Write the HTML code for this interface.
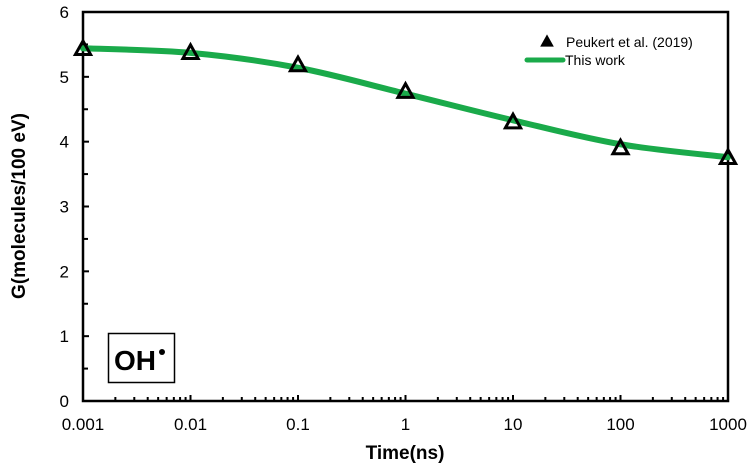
<!DOCTYPE html>
<html><head><meta charset="utf-8"><style>
body{margin:0;background:#fff;}
svg{display:block;font-family:"Liberation Sans",sans-serif;}
</style></head><body>
<svg id="chart" width="749" height="470" viewBox="0 0 749 470" xmlns="http://www.w3.org/2000/svg"></svg>
<script>
const xCats=[0.001,0.01,0.1,1,10,100,1000];
const xTickLabels=["0.001","0.01","0.1","1","10","100","1000"];
const peukertValues=[5.43,5.37,5.18,4.77,4.30,3.90,3.75];
const modelValues=[5.44,5.37,5.14,4.74,4.33,3.96,3.76];
const yTicks=[0,1,2,3,4,5,6];
const L=83,R=728,T=12,B=401;
const xs=v=>L+(Math.log10(v)+3)/6*(R-L);
const ys=v=>B-v/6*(B-T);
const svg=document.getElementById('chart');
const NS="http://www.w3.org/2000/svg";
function mk(tag,attrs,parent){const e=document.createElementNS(NS,tag);for(const k in attrs)e.setAttribute(k,attrs[k]);(parent||svg).appendChild(e);return e;}
let f=mk('rect',{x:L,y:T,width:R-L,height:B-T,fill:'none',stroke:'#000','stroke-width':2.5});


yTicks.forEach(v=>{
  let t=mk('line',{x1:L,x2:L+6,y1:ys(v),y2:ys(v),stroke:'#000','stroke-width':2});
  
  
  if(v<6){let m=mk('line',{x1:L,x2:L+5,y1:ys(v+0.5),y2:ys(v+0.5),stroke:'#000','stroke-width':2});
  
  }
  let lb=mk('text',{x:L-14,y:ys(v)+6,'text-anchor':'end','font-size':17});
  lb.textContent=v;
  
  
});
xCats.forEach((v,i)=>{
  let t=mk('line',{x1:xs(v),x2:xs(v),y1:B,y2:B-6,stroke:'#000','stroke-width':2});
  
  
  if(i<xCats.length-1){for(let k=2;k<10;k++){let m=mk('line',{x1:xs(v*k),x2:xs(v*k),y1:B,y2:B-4,stroke:'#000','stroke-width':2});
    
    }}
  let lb=mk('text',{x:xs(v),y:430,'text-anchor':'middle','font-size':17});
  lb.textContent=xTickLabels[i];
  
  
});
const pts=xCats.map((v,i)=>[xs(v),ys(modelValues[i])]);
let d=`M${pts[0][0]},${pts[0][1]}`;
for(let i=0;i<pts.length-1;i++){const p0=pts[Math.max(0,i-1)],p1=pts[i],p2=pts[i+1],p3=pts[Math.min(pts.length-1,i+2)];
  d+=` C${p1[0]+(p2[0]-p0[0])/6},${p1[1]+(p2[1]-p0[1])/6} ${p2[0]-(p3[0]-p1[0])/6},${p2[1]-(p3[1]-p1[1])/6} ${p2[0]},${p2[1]}`;}
let ln=mk('path',{d:d,fill:'none',stroke:'#1aaa4a','stroke-width':6,'stroke-linecap':'round'});


function tri(cx,cy,s,name){let p=mk('polygon',{points:`${cx},${cy-s} ${cx-s*0.95},${cy+s*0.7} ${cx+s*0.95},${cy+s*0.7}`,fill:'none',stroke:'#000','stroke-width':3,'stroke-linejoin':'miter'});
  
  return p;}
xCats.forEach((v,i)=>tri(xs(v),ys(peukertValues[i]),8,'peukert-point'));
let lt=tri(547,42,4.5,'legend-marker');lt.setAttribute('fill','#000');
let l1=mk('text',{x:566,y:47,'font-size':14});l1.textContent='Peukert et al. (2019)';


let ll=mk('line',{x1:527,x2:563,y1:60,y2:60,stroke:'#1aaa4a','stroke-width':5,'stroke-linecap':'round'});


let l2=mk('text',{x:565,y:65,'font-size':14});l2.textContent='This work';


let bx=mk('rect',{x:108.5,y:333.5,width:66,height:49,fill:'#fff',stroke:'#000','stroke-width':1.5});


let oh=mk('text',{x:114,y:370,'font-size':28,'font-weight':'bold'});oh.textContent='OH';


let dot=mk('circle',{cx:162,cy:352,r:3,fill:'#000'});


let xt=mk('text',{x:405,y:459,'text-anchor':'middle','font-size':19,'font-weight':'bold'});xt.textContent='Time(ns)';


let yt=mk('text',{x:0,y:0,'text-anchor':'middle','font-size':19,'font-weight':'bold',transform:'translate(25,206) rotate(-90)'});yt.textContent='G(molecules/100 eV)';


</script>
</body></html>
